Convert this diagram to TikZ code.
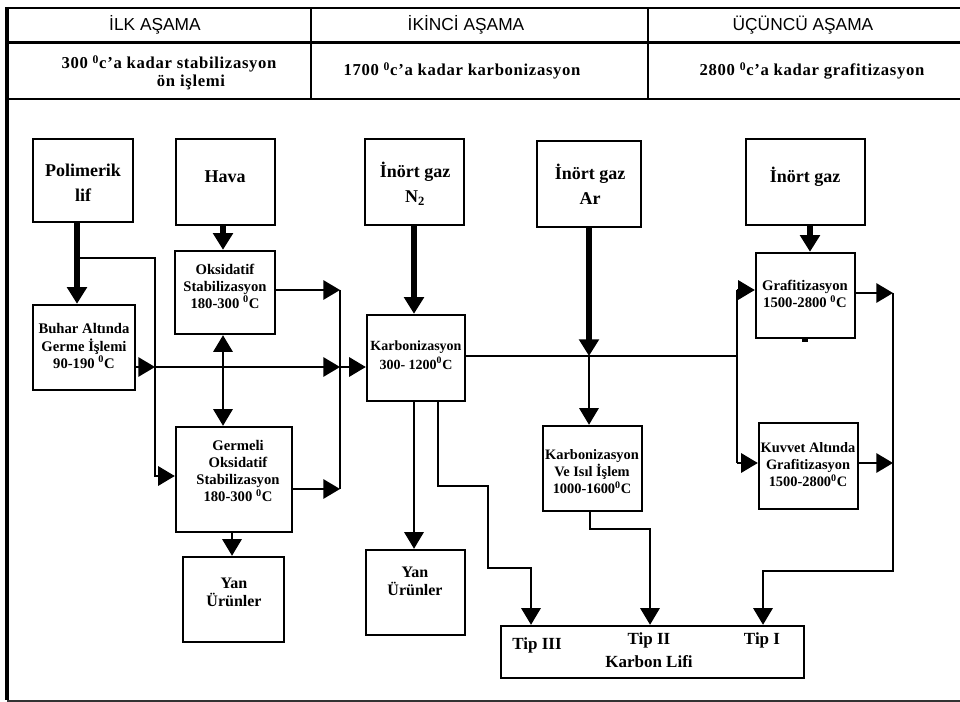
\documentclass[tikz,border=0pt]{standalone}
\usepackage{fontspec}
\setmainfont{Liberation Serif}
\newfontfamily\hdrfont{Liberation Sans}
\newfontfamily\rowfont{Liberation Serif}[LetterSpace=4]
\usetikzlibrary{arrows.meta,calc}
\begin{document}
\begin{tikzpicture}[x=0.75pt,y=-0.75pt,
  bx/.style={draw, line width=1.8pt, inner sep=0pt},
  sz/.style 2 args={minimum width=#1*0.75pt, minimum height=#2*0.75pt},
  lbl/.style={align=center, inner sep=0pt, font=\bfseries\fontsize{11}{12.8}\selectfont},
  big/.style={align=center, inner sep=0pt, font=\bfseries\fontsize{13.5}{18.5}\selectfont},
  hdr/.style={inner sep=0pt, font=\hdrfont\fontsize{13}{15}\selectfont},
  rowt/.style={inner sep=0pt, font=\rowfont\bfseries\fontsize{12.5}{14}\selectfont},
  tipt/.style={inner sep=0pt, font=\bfseries\fontsize{12.75}{16}\selectfont},
  yant/.style={align=center, inner sep=0pt, font=\bfseries\fontsize{12}{13.5}\selectfont},
  ln/.style={line width=1.5pt},
  tk/.style={line width=5pt},
  Tr/.tip={Triangle[length=12.5pt,width=14.5pt]}
]
\fill[white] (0,0) rectangle (960,702);
\useasboundingbox (0,0) rectangle (960,702);

% header table
\draw[line width=2.2pt] (7,8) -- (960,8);
\draw[line width=2.2pt] (7,42.5) -- (960,42.5);
\draw[line width=2.2pt] (7,99) -- (960,99);
\draw[line width=2.2pt] (311,8) -- (311,99);
\draw[line width=2.2pt] (648,8) -- (648,99);
\draw[line width=2.4pt] (7,7) -- (7,700);
\draw[line width=1.5pt, black!80] (7,700.5) -- (960,700.5);

\node[hdr] (h1) at (155,25) {İLK AŞAMA};
\node[hdr] (h2) at (466,25) {İKİNCİ AŞAMA};
\node[hdr] (h3) at (803,25) {ÜÇÜNCÜ AŞAMA};
\node[rowt] (r1) at (169,64) {300 \textsuperscript{0}c’a kadar stabilizasyon};
\node[rowt] (r1b) at (191,82) {ön işlemi};
\node[rowt] (r2) at (462,71) {1700 \textsuperscript{0}c’a kadar karbonizasyon};
\node[rowt] (r3) at (812,71) {2800 \textsuperscript{0}c’a kadar grafitizasyon};

% boxes
\node[bx, sz={100}{83}] (pol) at (83,180.5) {};
\node[bx, sz={99}{86}] (hava) at (225.5,182) {};
\node[bx, sz={100}{83}] (oks) at (225,292.5) {};
\node[bx, sz={102}{85}] (buhar) at (84,347.5) {};
\node[bx, sz={116}{105}] (germ) at (234,479.5) {};
\node[bx, sz={101}{85}] (yan1) at (233.5,599.5) {};
\node[bx, sz={99}{86}] (n2) at (414.5,182) {};
\node[bx, sz={98}{86}] (karb) at (416,358) {};
\node[bx, sz={99}{85}] (yan2) at (415.5,592.5) {};
\node[bx, sz={104}{86}] (ar) at (589,184) {};
\node[bx, sz={99}{85}] (karb2) at (592.5,468.5) {};
\node[bx, sz={119}{86}] (gaz3) at (805.5,182) {};
\node[bx, sz={99}{85}] (graf) at (805.5,295.5) {};
\node[bx, sz={99}{86}] (kuv) at (808.5,466) {};
\node[bx, sz={303}{52}] (lifi) at (652.5,652) {};

% texts
\node[big] (tpol) at (83,183) {Polimerik\\lif};
\node[big] (thava) at (225,177) {Hava};
\node[lbl] (toks) at (225,286) {Oksidatif\\Stabilizasyon\\180-300 \textsuperscript{0}C};
\node[lbl] (tbuhar) at (84,346) {Buhar Altında\\Germe İşlemi\\90-190 \textsuperscript{0}C};
\node[lbl] (tgerm) at (238,471) {Germeli\\Oksidatif\\Stabilizasyon\\180-300 \textsuperscript{0}C};
\node[yant] (tyan1) at (234,592) {Yan\\Ürünler};
\node[big] (tn2) at (415,184) {İnört gaz\\N\textsubscript{2}};
\node[lbl, font=\bfseries\fontsize{10.5}{14}\selectfont] (tkarb) at (416,355) {Karbonizasyon\\300- 1200\textsuperscript{0}C};
\node[yant] (tyan2) at (415,581) {Yan\\Ürünler};
\node[big] (tar) at (590,184) {İnört gaz\\Ar};
\node[lbl, font=\bfseries\fontsize{10.8}{12.8}\selectfont] (tkarb2) at (592,472) {Karbonizasyon\\Ve Isıl İşlem\\1000-1600\textsuperscript{0}C};
\node[big] (tgaz3) at (805,177) {İnört gaz};
\node[lbl] (tgraf) at (805,294) {Grafitizasyon\\1500-2800 \textsuperscript{0}C};
\node[lbl, font=\bfseries\fontsize{10.8}{12.8}\selectfont] (tkuv) at (808,465) {Kuvvet Altında\\Grafitizasyon\\1500-2800\textsuperscript{0}C};
\node[tipt] (t3) at (537,645) {Tip III};
\node[tipt] (t2) at (649,640) {Tip II};
\node[tipt] (tkl) at (649,662) {Karbon Lifi};
\node[tipt] (t1) at (762,640) {Tip I};

% junction coordinates
\coordinate (b1) at (77,258);
\coordinate (j1) at (155,367);
\coordinate (j2) at (340,367);
\coordinate (j3) at (340,290);
\coordinate (j4) at (340,489);
\coordinate (j5) at (589,356);
\coordinate (j6) at (737,290);
\coordinate (j7) at (737,463);
\coordinate (j8) at (893,293);
\coordinate (j9) at (893,463);

% left part
\draw[tk,-Tr] (pol.south -| 77,0) -- (buhar.north -| 77,0);
\draw[ln,-Tr] (b1) -| (155,476) -- (germ.west |- 0,476);
\draw[tk,-Tr] (hava.south -| 223,0) -- (oks.north -| 223,0);
\draw[ln,Tr-Tr] (oks.south -| 223,0) -- (germ.north -| 223,0);
\draw[ln,-Tr] (oks.east |- j3) -- (j3);
\draw[ln,-Tr] (germ.east |- j4) -- (j4);
\draw[ln] (j3) -- (j4);
\draw[ln,-Tr] (buhar.east |- j1) -- (j1);
\draw[ln,-Tr] (j1) -- (j2);
\draw[ln,-Tr] (j2) -- (karb.west |- j2);
\draw[ln,-Tr] (germ.south -| 232,0) -- (yan1.north -| 232,0);

% middle part
\draw[tk,-Tr] (n2.south -| 414,0) -- (karb.north -| 414,0);
\draw[ln,-Tr] (karb.south -| 414,0) -- (yan2.north -| 414,0);
\draw[ln,-Tr] (karb.south -| 438,0) |- (488,486) |- (531,568) -- (lifi.north -| 531,0);
\draw[ln] (karb.east |- 0,356) -- (737,356);
\draw[tk,-Tr] (ar.south -| 589,0) -- (j5);
\draw[ln,-Tr] (j5) -- (karb2.north -| 589,0);
\draw[ln,-Tr] (karb2.south -| 590,0) |- (650,529) -- (lifi.north -| 650,0);

% right part
\draw[tk,-Tr] (gaz3.south -| 810,0) -- (graf.north -| 810,0);
\draw[ln,-Tr] (j6) -- (graf.west |- j6);
\draw[ln] (j6) -- (j7);
\draw[ln,-Tr] (j7) -- (kuv.west |- j7);
\draw[ln,-Tr] (graf.east |- j8) -- (j8);
\draw[ln,-Tr] (kuv.east |- j9) -- (j9);
\draw[ln,-Tr] (j8) |- (763,571) -- (lifi.north -| 763,0);
\fill (802,338) rectangle (808,341.5);
\end{tikzpicture}
\end{document}
